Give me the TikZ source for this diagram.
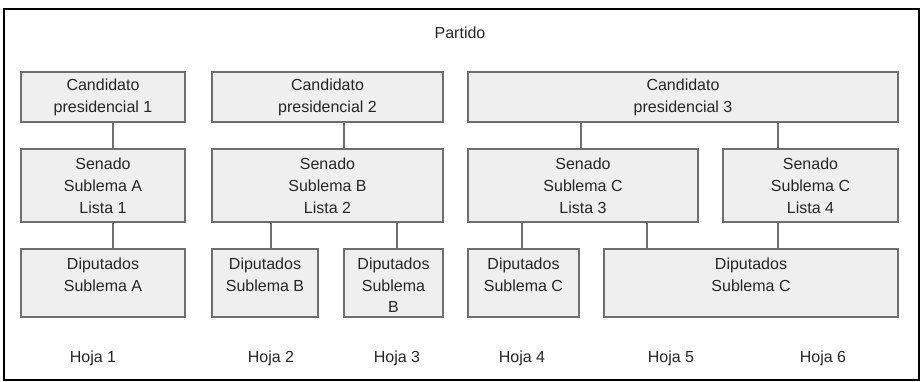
\documentclass[tikz,border=0pt]{standalone}
\usepackage{fontspec}
\setmainfont{Liberation Sans}
\definecolor{boxfill}{HTML}{EFEFEF}
\definecolor{boxline}{HTML}{6E6E6E}
\begin{document}
\begin{tikzpicture}[x=1pt,y=-1pt,
  every node/.style={font=\fontsize{16}{21.8}\selectfont, text=black!85},
  box/.style={draw=boxline, fill=boxfill, line width=1.1pt, align=center, inner sep=0pt},
  dtext/.style={anchor=north, align=center, inner sep=0pt},
  link/.style={draw=boxline, line width=1.1pt}]
\useasboundingbox (0,0) rectangle (921,382);
\draw[line width=2.2pt] (4,9) rectangle (919,380);
\node (partido) at (460,33) {Partido};
% candidatos
\node[box, minimum width=164pt, minimum height=50pt] (c1) at (103,97) {Candidato\\presidencial 1};
\node[box, minimum width=231pt, minimum height=50pt] (c2) at (327.5,97) {Candidato\\presidencial 2};
\node[box, minimum width=430pt, minimum height=50pt] (c3) at (683,97) {Candidato\\presidencial 3};
% senado
\node[box, minimum width=164pt, minimum height=73pt] (s1) at (103,185.5) {Senado\\Sublema A\\Lista 1};
\node[box, minimum width=231pt, minimum height=73pt] (s2) at (327.5,185.5) {Senado\\Sublema B\\Lista 2};
\node[box, minimum width=230pt, minimum height=73pt] (s3) at (583,185.5) {Senado\\Sublema C\\Lista 3};
\node[box, minimum width=175pt, minimum height=73pt] (s4) at (810.5,185.5) {Senado\\Sublema C\\Lista 4};
% diputados
\node[box, minimum width=164pt, minimum height=68pt] (d1) at (103,283) {};
\node[box, minimum width=106pt, minimum height=68pt] (d2) at (265,283) {};
\node[box, minimum width=99pt, minimum height=68pt] (d3) at (393.5,283) {};
\node[box, minimum width=111pt, minimum height=68pt] (d4) at (523.5,283) {};
\node[box, minimum width=294pt, minimum height=68pt] (d5) at (751,283) {};
\node[dtext] (t1) at ([yshift=-9pt]d1.north) {Diputados\\Sublema A};
\node[dtext] (t2) at ([yshift=-9pt]d2.north) {Diputados\\Sublema B};
\node[dtext] (t3) at ([yshift=-9pt]d3.north) {Diputados\\Sublema\\B};
\node[dtext] (t4) at ([yshift=-9pt]d4.north) {Diputados\\Sublema C};
\node[dtext] (t5) at ([yshift=-9pt]d5.north) {Diputados\\Sublema C};
% connectors
\draw[link] (113,0 |- c1.south) -- (113,0 |- s1.north);
\draw[link] (344,0 |- c2.south) -- (344,0 |- s2.north);
\draw[link] (581,0 |- c3.south) -- (581,0 |- s3.north);
\draw[link] (778,0 |- c3.south) -- (778,0 |- s4.north);
\draw[link] (113,0 |- s1.south) -- (113,0 |- d1.north);
\draw[link] (271,0 |- s2.south) -- (271,0 |- d2.north);
\draw[link] (397,0 |- s2.south) -- (397,0 |- d3.north);
\draw[link] (522,0 |- s3.south) -- (522,0 |- d4.north);
\draw[link] (647,0 |- s3.south) -- (647,0 |- d5.north);
\draw[link] (778,0 |- s4.south) -- (778,0 |- d5.north);
% hojas
\node (h1) at (93,358) {Hoja 1};
\node (h2) at (271,358) {Hoja 2};
\node (h3) at (397,358) {Hoja 3};
\node (h4) at (522,358) {Hoja 4};
\node (h5) at (671,358) {Hoja 5};
\node (h6) at (823,358) {Hoja 6};
\end{tikzpicture}
\end{document}
